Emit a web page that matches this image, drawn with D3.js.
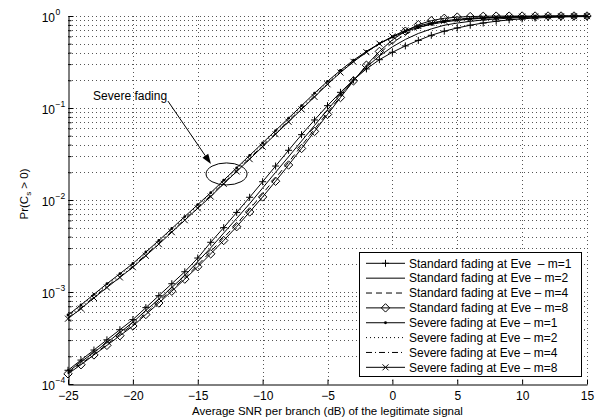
<!DOCTYPE html>
<html><head><meta charset="utf-8">
<script src="https://cdn.jsdelivr.net/npm/d3@7/dist/d3.min.js"></script>
<style>
html,body{margin:0;padding:0;background:#fff;}
svg{display:block;font-family:"Liberation Sans",Arial,Helvetica,sans-serif;}
</style></head><body>
<svg id="chart" width="600" height="418"></svg>
<script>
// ---------------- data ----------------
const snrDb = [-25,-24,-23,-22,-21,-20,-19,-18,-17,-16,-15,-14,-13,-12,-11,-10,-9,-8,-7,-6,-5,-4,-3,-2,-1,0,1,2,3,4,5,6,7,8,9,10,11,12,13,14,15];

const stdM1 = [1.41e-4,1.82e-4,2.34e-4,3.02e-4,3.89e-4,5.01e-4,6.76e-4,9.12e-4,1.23e-3,1.66e-3,
  2.34e-3,3.47e-3,5.01e-3,7.33e-3,1.07e-2,1.58e-2,2.34e-2,3.47e-2,5.13e-2,7.41e-2,
  0.106,0.148,0.202,0.266,0.335,0.403,0.473,0.543,0.617,0.684,
  0.741,0.794,0.839,0.877,0.908,0.931,0.951,0.964,0.975,0.982,0.986];
const stdM2 = [1.35e-4,1.74e-4,2.21e-4,2.82e-4,3.63e-4,4.68e-4,6.31e-4,8.32e-4,1.12e-3,1.51e-3,
  2.14e-3,3.02e-3,4.37e-3,6.31e-3,9.12e-3,1.35e-2,2.00e-2,2.95e-2,4.37e-2,6.46e-2,
  9.55e-2,0.140,0.200,0.279,0.367,0.462,0.556,0.646,0.724,0.794,
  0.838,0.875,0.906,0.929,0.946,0.962,0.973,0.979,0.986,0.991,0.993];
const stdM4 = [1.32e-4,1.66e-4,2.11e-4,2.69e-4,3.47e-4,4.42e-4,5.89e-4,7.94e-4,1.06e-3,1.43e-3,
  1.97e-3,2.75e-3,3.89e-3,5.50e-3,7.94e-3,1.17e-2,1.74e-2,2.57e-2,3.89e-2,5.89e-2,
  8.91e-2,0.133,0.198,0.285,0.394,0.513,0.631,0.741,0.828,0.885,
  0.920,0.944,0.959,0.970,0.979,0.984,0.989,0.993,0.995,0.996,0.998];
const stdM8 = [1.29e-4,1.62e-4,2.07e-4,2.63e-4,3.35e-4,4.27e-4,5.69e-4,7.59e-4,1.02e-3,1.38e-3,
  1.88e-3,2.60e-3,3.63e-3,5.13e-3,7.41e-3,1.08e-2,1.60e-2,2.40e-2,3.63e-2,5.56e-2,
  8.51e-2,0.130,0.197,0.292,0.412,0.550,0.684,0.804,0.891,0.944,
  0.973,0.986,0.993,0.997,0.998,0.999,0.999,0.9995,0.9997,0.9998,0.9999];
const sevM1 = [5.62e-4,7.24e-4,9.44e-4,1.23e-3,1.58e-3,2.04e-3,2.72e-3,3.63e-3,4.90e-3,6.61e-3,
  8.91e-3,1.20e-2,1.64e-2,2.24e-2,3.05e-2,4.17e-2,5.69e-2,7.76e-2,0.106,0.145,
  0.195,0.257,0.331,0.412,0.501,0.589,0.676,0.750,0.813,0.861,
  0.897,0.925,0.944,0.959,0.970,0.979,0.985,0.990,0.993,0.995,0.997];
const sevM2 = [5.47e-4,7.04e-4,9.19e-4,1.20e-3,1.54e-3,1.98e-3,2.65e-3,3.53e-3,4.77e-3,6.43e-3,
  8.67e-3,1.17e-2,1.60e-2,2.18e-2,2.97e-2,4.06e-2,5.54e-2,7.55e-2,0.103,0.141,
  0.191,0.252,0.327,0.409,0.501,0.592,0.682,0.759,0.822,0.869,
  0.904,0.929,0.948,0.962,0.970,0.979,0.985,0.990,0.993,0.995,0.997];
const sevM4 = [5.24e-4,6.75e-4,8.81e-4,1.15e-3,1.47e-3,1.90e-3,2.54e-3,3.39e-3,4.57e-3,6.17e-3,
  8.31e-3,1.12e-2,1.53e-2,2.09e-2,2.85e-2,3.89e-2,5.31e-2,7.24e-2,9.89e-2,0.135,
  0.184,0.246,0.321,0.406,0.501,0.597,0.692,0.771,0.836,0.881,
  0.914,0.938,0.953,0.966,0.975,0.982,0.985,0.990,0.993,0.995,0.997];
const sevM8 = [5.13e-4,6.60e-4,8.61e-4,1.12e-3,1.44e-3,1.86e-3,2.48e-3,3.31e-3,4.47e-3,6.03e-3,
  8.13e-3,1.09e-2,1.50e-2,2.04e-2,2.78e-2,3.80e-2,5.19e-2,7.08e-2,9.67e-2,0.132,
  0.181,0.243,0.318,0.404,0.501,0.600,0.697,0.778,0.843,0.887,
  0.918,0.942,0.957,0.968,0.977,0.984,0.987,0.990,0.993,0.995,0.997];

const seriesLabels = [
  "Standard fading at Eve\u00a0 \u2013 m=1",
  "Standard fading at Eve \u2013 m=2",
  "Standard fading at Eve \u2013 m=4",
  "Standard fading at Eve \u2013 m=8",
  "Severe fading at Eve \u2013 m=1",
  "Severe fading at Eve \u2013 m=2",
  "Severe fading at Eve \u2013 m=4",
  "Severe fading at Eve \u2013 m=8"
];
const xTicks = [-25,-20,-15,-10,-5,0,5,10,15];
const xTickLabels = ["\u221225","\u221220","\u221215","\u221210","\u22125","0","5","10","15"];
const yTicks = [1e-4,1e-3,1e-2,1e-1,1];
const yTickExp = ["\u22124","\u22123","\u22122","\u22121","0"];
const xLabel = "Average SNR per branch (dB) of the legitimate signal";
const annotationText = "Severe fading";

// ---------------- layout ----------------
const svg = d3.select("#chart");
const L = 68, R = 587, T = 16, B = 384;
const x = d3.scaleLinear().domain([-25, 15]).range([L, R]);
const y = d3.scaleLog().domain([1e-4, 1]).range([B, T]);
const crisp = v => Math.round(v) + 0.5;
const FONT = "Liberation Sans, Arial, sans-serif";

// grid
const gridG = svg.append("g").attr("stroke", "#555").attr("stroke-width", 1).attr("stroke-dasharray", "1,3");
const minorVals = [];
[1e-4, 1e-3, 1e-2, 1e-1].forEach(dec => { for (let k = 1; k <= 9; k++) minorVals.push(k * dec); });
minorVals.push(1);
minorVals.filter(v => v > 1e-4).forEach(v => {
  gridG.append("line").attr("x1", L).attr("x2", R).attr("y1", crisp(y(v))).attr("y2", crisp(y(v)));
});
xTicks.filter(v => v > -25).forEach(v => {
  gridG.append("line").attr("y1", T).attr("y2", B).attr("x1", crisp(x(v))).attr("x2", crisp(x(v)));
});

// axes
const axisFont = 12;
const xAxis = d3.axisBottom(x).tickValues(xTicks).tickSize(-5).tickSizeOuter(0).tickPadding(6.5)
  .tickFormat((d, i) => xTickLabels[i]);
const gx = svg.append("g").attr("transform", `translate(0,${crisp(B)})`).call(xAxis);
gx.selectAll("text").attr("font-size", axisFont).attr("font-family", FONT).attr("fill", "#000");
gx.selectAll("line,path").attr("stroke", "#000");

const yMinorAxis = d3.axisLeft(y).tickValues(minorVals.filter(v => !yTicks.includes(v))).tickSize(-3).tickSizeOuter(0).tickFormat("");
const gym = svg.append("g").attr("transform", `translate(${crisp(L)},0)`).call(yMinorAxis);
gym.select("path").remove();
gym.selectAll("line").attr("stroke", "#000");

const yAxis = d3.axisLeft(y).tickValues(yTicks).tickSize(-5).tickSizeOuter(0).tickFormat("");
const gy = svg.append("g").attr("transform", `translate(${crisp(L)},0)`).call(yAxis);
gy.selectAll("line,path").attr("stroke", "#000");
gy.selectAll(".tick").each(function (d, i) {
  const g = d3.select(this);
  g.append("text").attr("x", -13.5).attr("y", 5).attr("text-anchor", "end")
    .attr("font-size", axisFont).attr("font-family", FONT).attr("fill", "#000").text("10");
  g.append("text").attr("x", -13).attr("y", -2).attr("text-anchor", "start")
    .attr("font-size", 8.5).attr("font-family", FONT).attr("fill", "#000").text(yTickExp[i]);
});

// axis labels
svg.append("text").attr("x", (L + R) / 2).attr("y", 414.5).attr("text-anchor", "middle")
  .attr("font-size", 11.5).text(xLabel);
const yl = svg.append("text").attr("transform", `translate(28,${(T + B) / 2 - 6}) rotate(-90)`)
  .attr("text-anchor", "middle").attr("font-size", 11.5);
yl.append("tspan").text("Pr(C");
yl.append("tspan").attr("font-size", 8).attr("dy", 3).text("s");
yl.append("tspan").attr("dy", -3).text(" > 0)");

// ---------------- series ----------------
const marker = {
  plus: "M-3.5,0H3.5M0,-3.5V3.5",
  cross: "M-3,-3L3,3M-3,3L3,-3",
  diamond: "M0,-4.2L4.2,0L0,4.2L-4.2,0Z"
};
const seriesDefs = [
  { vals: stdM1, dash: null, mk: "plus" },
  { vals: stdM2, dash: null, mk: null },
  { vals: stdM4, dash: "6,4", mk: null },
  { vals: stdM8, dash: null, mk: "diamond" },
  { vals: sevM1, dash: null, mk: "dot" },
  { vals: sevM2, dash: "1,3", mk: null },
  { vals: sevM4, dash: "6,3,1,3", mk: null },
  { vals: sevM8, dash: null, mk: "cross" }
];
const line = d3.line().x(d => x(d[0])).y(d => y(d[1]));
const plotG = svg.append("g");
function drawMarker(g, mk, cx, cy) {
  if (!mk) return;
  if (mk === "dot") {
    g.append("circle").attr("cx", cx).attr("cy", cy).attr("r", 1.4).attr("fill", "#000");
  } else {
    g.append("path").attr("d", marker[mk]).attr("transform", `translate(${cx},${cy})`)
      .attr("fill", "none").attr("stroke", "#000").attr("stroke-width", 1);
  }
}
seriesDefs.forEach(s => {
  const pts = snrDb.map((v, i) => [v, s.vals[i]]);
  plotG.append("path").attr("d", line(pts)).attr("fill", "none").attr("stroke", "#000")
    .attr("stroke-width", 1).attr("stroke-dasharray", s.dash);
  const mg = plotG.append("g");
  pts.forEach(p => drawMarker(mg, s.mk, x(p[0]), y(p[1])));
});

// ---------------- annotation ----------------
svg.append("text").attr("x", x(-23.07)).attr("y", y(0.122)).attr("font-size", 12).text(annotationText);
const a0 = [x(-17.3), y(0.119)], a1 = [x(-13.98), y(0.0246)];
const ang = Math.atan2(a1[1] - a0[1], a1[0] - a0[0]);
const headLen = 10, headW = 3.5;
const base = [a1[0] - headLen * Math.cos(ang), a1[1] - headLen * Math.sin(ang)];
svg.append("line").attr("x1", a0[0]).attr("y1", a0[1]).attr("x2", base[0]).attr("y2", base[1])
  .attr("stroke", "#000").attr("stroke-width", 1);
svg.append("path").attr("d", `M${a1[0]},${a1[1]}L${base[0] + headW * Math.sin(ang)},${base[1] - headW * Math.cos(ang)}L${base[0] - headW * Math.sin(ang)},${base[1] + headW * Math.cos(ang)}Z`)
  .attr("fill", "#000");
svg.append("ellipse").attr("cx", x(-12.78)).attr("cy", y(0.0192)).attr("rx", 20.5).attr("ry", 11)
  .attr("fill", "none").attr("stroke", "#000").attr("stroke-width", 1);

// ---------------- legend ----------------
const lg = svg.append("g");
const lx = 359.5, ly = 252.5, lw = 222, lh = 124;
lg.append("rect").attr("x", lx).attr("y", ly).attr("width", lw).attr("height", lh)
  .attr("fill", "#fff").attr("stroke", "#000").attr("stroke-width", 1);
seriesDefs.forEach((s, i) => {
  const ry = 263.3 + i * 14.86;
  lg.append("line").attr("x1", 366).attr("x2", 405).attr("y1", ry).attr("y2", ry)
    .attr("stroke", "#000").attr("stroke-width", 1).attr("stroke-dasharray", s.dash);
  drawMarker(lg, s.mk, 385.5, ry);
  lg.append("text").attr("x", 409).attr("y", ry + 4.2).attr("font-size", 12).text(seriesLabels[i]);
});
</script>
</body></html>
